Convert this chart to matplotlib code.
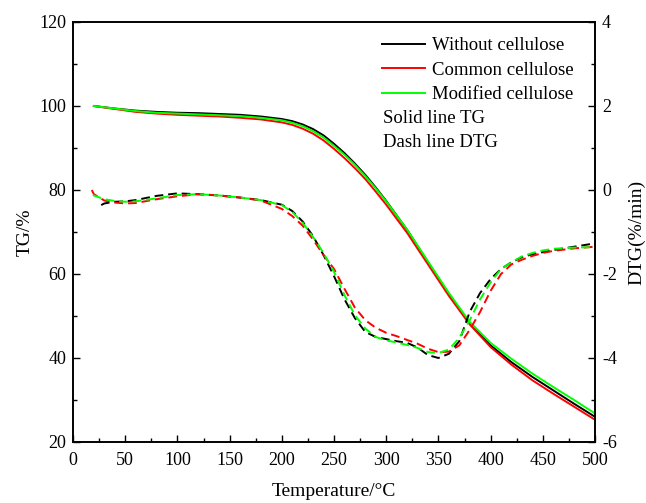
import matplotlib
matplotlib.use('Agg')
import matplotlib.pyplot as plt
from matplotlib.ticker import MultipleLocator

plt.rcParams['font.family'] = ['Liberation Serif', 'DejaVu Serif']
plt.rcParams['axes.unicode_minus'] = False

# TG data (%)
tg_temp = [20, 40, 60, 80, 100, 120, 140, 160, 180, 200, 210, 220, 230, 240, 250,
           260, 270, 280, 290, 300, 320, 340, 360, 380, 400, 420, 440, 460, 480, 500]
tg_without = [100.0, 99.4, 98.9, 98.6, 98.4, 98.3, 98.1, 97.9, 97.5, 96.9, 96.4, 95.6, 94.5, 93.0, 91.0,
              88.8, 86.3, 83.6, 80.6, 77.4, 70.5, 62.8, 55.2, 48.2, 43.0, 39.0, 35.5, 32.3, 29.1, 26.0]
tg_common = [100.0, 99.3, 98.6, 98.2, 97.9, 97.7, 97.5, 97.2, 96.8, 96.1, 95.5, 94.6, 93.4, 91.8, 89.8,
             87.6, 85.2, 82.6, 79.6, 76.5, 69.8, 62.3, 54.8, 48.0, 42.6, 38.4, 34.7, 31.5, 28.4, 25.3]
tg_modified = [100.0, 99.4, 98.8, 98.4, 98.2, 98.0, 97.8, 97.6, 97.2, 96.6, 96.0, 95.2, 94.0, 92.5, 90.5,
               88.4, 86.0, 83.3, 80.4, 77.3, 70.6, 63.0, 55.5, 48.6, 43.6, 39.8, 36.3, 33.1, 30.0, 26.8]

# DTG data (%/min)
dtg_temp_without = [27, 30, 40, 50, 60, 80, 100, 120, 140, 160, 180, 200, 210, 220, 230, 240, 250,
                    260, 270, 280, 290, 300, 310, 320, 330, 340, 350, 360, 370, 380, 390, 400,
                    410, 420, 430, 440, 450, 460, 480, 500]
dtg_without = [-0.36, -0.32, -0.28, -0.27, -0.24, -0.14, -0.08, -0.10, -0.13, -0.18, -0.24, -0.35,
               -0.50, -0.75, -1.10, -1.55, -2.05, -2.60, -3.05, -3.38, -3.50, -3.55, -3.60, -3.64,
               -3.75, -3.93, -4.00, -3.90, -3.60, -2.90, -2.45, -2.12, -1.88, -1.72, -1.60, -1.53,
               -1.48, -1.43, -1.35, -1.27]
dtg_temp_common = [18, 20, 30, 40, 50, 60, 80, 100, 120, 140, 160, 180, 200, 210, 220, 230, 240, 250,
                   260, 270, 280, 290, 300, 310, 320, 330, 340, 350, 360, 370, 380, 390, 400,
                   410, 420, 430, 440, 450, 460, 480, 500]
dtg_common = [0.00, -0.10, -0.25, -0.30, -0.32, -0.31, -0.22, -0.15, -0.10, -0.13, -0.18, -0.25, -0.45,
              -0.62, -0.85, -1.18, -1.55, -1.88, -2.35, -2.80, -3.10, -3.28, -3.40, -3.48, -3.57,
              -3.66, -3.78, -3.86, -3.85, -3.70, -3.33, -2.90, -2.40, -2.00, -1.77, -1.66, -1.57,
              -1.50, -1.45, -1.39, -1.35]
dtg_temp_modified = [19, 30, 40, 50, 60, 80, 100, 120, 140, 160, 180, 200, 210, 220, 230, 240, 250,
                     260, 270, 280, 290, 300, 310, 320, 330, 340, 350, 360, 370, 380, 390, 400,
                     410, 420, 430, 440, 450, 460, 480, 500]
dtg_modified = [-0.12, -0.22, -0.26, -0.28, -0.27, -0.20, -0.12, -0.10, -0.13, -0.18, -0.24, -0.36,
                -0.52, -0.78, -1.12, -1.50, -1.95, -2.50, -2.98, -3.30, -3.50, -3.58, -3.63, -3.69,
                -3.76, -3.86, -3.88, -3.80, -3.52, -3.10, -2.60, -2.20, -1.88, -1.72, -1.58, -1.50,
                -1.44, -1.40, -1.37, -1.36]

labels = ['Without cellulose', 'Common cellulose', 'Modified cellulose']
colors = ['#000000', '#ff0000', '#00ff00']

fig = plt.figure(figsize=(6.46, 5.03), dpi=100)
ax1 = fig.add_axes([73 / 646, 1 - 442 / 503, 522 / 646, 420 / 503])
ax2 = ax1.twinx()

# TG solid lines
tg_sets = [tg_without, tg_common, tg_modified]
for vals, c, lab in zip(tg_sets, colors, labels):
    ax1.plot(tg_temp, vals, color=c, lw=1.4, label=lab)

# DTG dashed lines
dtg_sets = [(dtg_temp_without, dtg_without), (dtg_temp_common, dtg_common),
            (dtg_temp_modified, dtg_modified)]
for (t, vals), c in zip(dtg_sets, colors):
    ax2.plot(t, vals, color=c, lw=1.4, ls=(0, (4.5, 2.5)))

ax1.set_xlim(0, 500)
ax1.set_ylim(20, 120)
ax2.set_ylim(-6, 4)

ax1.xaxis.set_major_locator(MultipleLocator(50))
ax1.xaxis.set_minor_locator(MultipleLocator(25))
ax1.yaxis.set_major_locator(MultipleLocator(20))
ax1.yaxis.set_minor_locator(MultipleLocator(10))
ax2.yaxis.set_major_locator(MultipleLocator(2))
ax2.yaxis.set_minor_locator(MultipleLocator(1))

for ax in (ax1, ax2):
    ax.tick_params(which='major', direction='in', length=5, width=1, labelsize=13, pad=5)
    ax.tick_params(which='minor', direction='in', length=3, width=1)
    for s in ax.spines.values():
        s.set_linewidth(1.2)
ax1.tick_params(axis='x', which='both', top=False)
ax1.tick_params(axis='x', which='major', pad=7)

ax1.set_xlabel('Temperature/°C', fontsize=14, labelpad=10)
ax1.set_ylabel('TG/%', fontsize=14, labelpad=4)
ax2.set_ylabel('DTG(%/min)', fontsize=14, labelpad=8)

leg = ax1.legend(loc='upper left', bbox_to_anchor=(0.592, 0.964), frameon=False,
                 fontsize=13.5, handlelength=2.3, handletextpad=0.36, labelspacing=0.4,
                 borderaxespad=0, borderpad=0)
ax1.text(0.594, 0.771, 'Solid line TG', transform=ax1.transAxes, fontsize=13.5, va='center')
ax1.text(0.594, 0.714, 'Dash line DTG', transform=ax1.transAxes, fontsize=13.5, va='center')

fig.savefig('out.png', dpi=100)
